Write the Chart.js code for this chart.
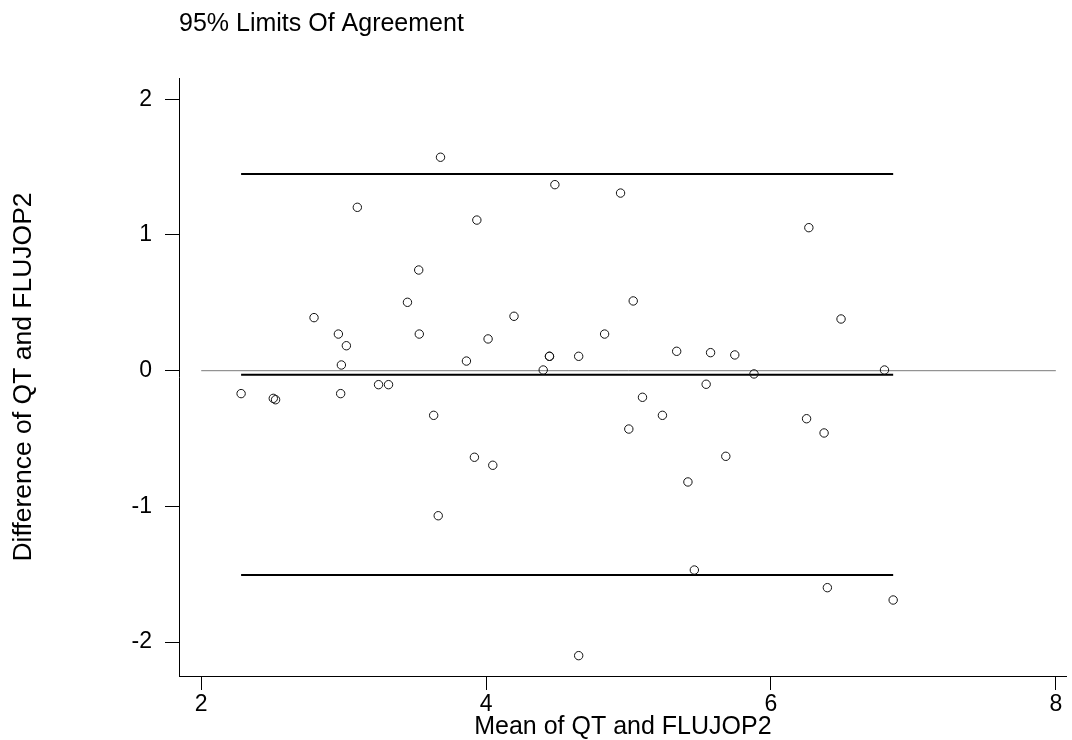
<!DOCTYPE html>
<html>
<head>
<meta charset="utf-8">
<title>95% Limits Of Agreement</title>
<script src="https://cdn.jsdelivr.net/npm/chart.js@4/dist/chart.umd.min.js"></script>
<style>
  html, body { margin: 0; padding: 0; background: #fff; }
  #wrap { width: 1072px; height: 740px; }
</style>
</head>
<body>
<div id="wrap"><canvas id="chart1" width="1072" height="740"></canvas></div>
<script>
// mean of the two methods for each subject
const means = [
  2.28, 2.506, 2.522, 2.792, 2.963, 2.979, 2.984, 3.019, 3.096, 3.245,
  3.315, 3.448, 3.527, 3.531, 3.632, 3.664, 3.68, 3.862, 3.918, 3.935,
  4.014, 4.047, 4.196, 4.401, 4.445, 4.445, 4.483, 4.65, 4.65, 4.832,
  4.944, 5.002, 5.033, 5.098, 5.238, 5.338, 5.417, 5.462, 5.545, 5.576,
  5.683, 5.746, 5.881, 6.25, 6.266, 6.373, 6.396, 6.492, 6.797, 6.858
];
// QT minus FLUJOP2
const diffs = [
  -0.169, -0.204, -0.214, 0.391, 0.27, -0.169, 0.042, 0.184, 1.204, -0.103,
  -0.103, 0.504, 0.742, 0.27, -0.329, -1.069, 1.573, 0.071, -0.638, 1.11,
  0.234, -0.697, 0.401, 0.005, 0.106, 0.106, 1.371, 0.106, -2.1, 0.27,
  1.309, -0.43, 0.514, -0.196, -0.329, 0.143, -0.82, -1.469, -0.1, 0.133,
  -0.631, 0.116, -0.024, -0.354, 1.054, -0.459, -1.599, 0.381, 0.005, -1.69
];
// mean difference and the 95% limits
const limits = [1.449, -0.03, -1.505];
const xTicks = [2, 4, 6, 8];
const yTicks = [-2, -1, 0, 1, 2];

const font = "'Liberation Sans', Arial, sans-serif";

function hLine(y, x0, x1, color, width) {
  return {
    type: "line",
    data: [{ x: x0, y: y }, { x: x1, y: y }],
    borderColor: color,
    borderWidth: width,
    pointRadius: 0,
    showLine: true,
    order: 2,
  };
}

const xMin = Math.min(...means);
const xMax = Math.max(...means);

const datasets = [
  {
    type: "scatter",
    data: means.map((m, i) => ({ x: m, y: diffs[i] })),
    pointStyle: "circle",
    pointRadius: 4.2,
    borderWidth: 1,
    borderColor: "#111",
    backgroundColor: "rgba(0,0,0,0)",
    order: 0,
  },
  hLine(0, 2, 8, "#7a7a7a", 1),
];
limits.forEach((v) => datasets.push(hLine(v, xMin, xMax, "#000", 2)));

const ctx = document.getElementById("chart1").getContext("2d");
new Chart(ctx, {
  type: "scatter",
  data: { datasets: datasets },
  options: {
    responsive: false,
    animation: false,
    layout: { padding: { left: 0, right: 2, top: 0, bottom: 0 } },
    plugins: {
      legend: { display: false },
      tooltip: { enabled: false },
      title: {
        display: true,
        text: "95% Limits Of Agreement",
        align: "start",
        fullSize: false,
        color: "#000",
        font: { family: font, size: 25, weight: "normal", lineHeight: 1.2 },
        padding: { top: 9, bottom: 39 },
      },
    },
    scales: {
      x: {
        type: "linear",
        min: 1.844,
        max: 8.077,
        afterBuildTicks: (scale) => {
          scale.ticks = xTicks.map((v) => ({ value: v }));
        },
        afterFit: (scale) => {
          scale.height = 64;
          scale.paddingLeft = 0;
          scale.paddingRight = 0;
        },
        grid: {
          drawOnChartArea: false,
          drawTicks: true,
          tickLength: 14,
          tickColor: "#000",
          tickWidth: 1,
        },
        border: { display: true, color: "#000", width: 1 },
        ticks: {
          color: "#000",
          padding: 1,
          font: { family: font, size: 23, lineHeight: 1.2 },
        },
        title: {
          display: true,
          text: "Mean of QT and FLUJOP2",
          color: "#000",
          font: { family: font, size: 25, lineHeight: 1 },
          padding: { top: -2, bottom: 0 },
        },
      },
      y: {
        type: "linear",
        min: -2.25,
        max: 2.157,
        afterBuildTicks: (scale) => {
          scale.ticks = yTicks.map((v) => ({ value: v }));
        },
        afterFit: (scale) => {
          scale.width = 179;
          scale.paddingTop = 0;
          scale.paddingBottom = 0;
        },
        grid: {
          drawOnChartArea: false,
          drawTicks: true,
          tickLength: 14,
          tickColor: "#000",
          tickWidth: 1,
        },
        border: { display: true, color: "#000", width: 1 },
        ticks: {
          color: "#000",
          padding: 13,
          font: { family: font, size: 23 },
        },
        title: {
          display: true,
          text: "Difference of QT and FLUJOP2",
          color: "#000",
          font: { family: font, size: 26.5, lineHeight: 1 },
          padding: { top: 10, bottom: 0 },
        },
      },
    },
  },
});
</script>
</body>
</html>
